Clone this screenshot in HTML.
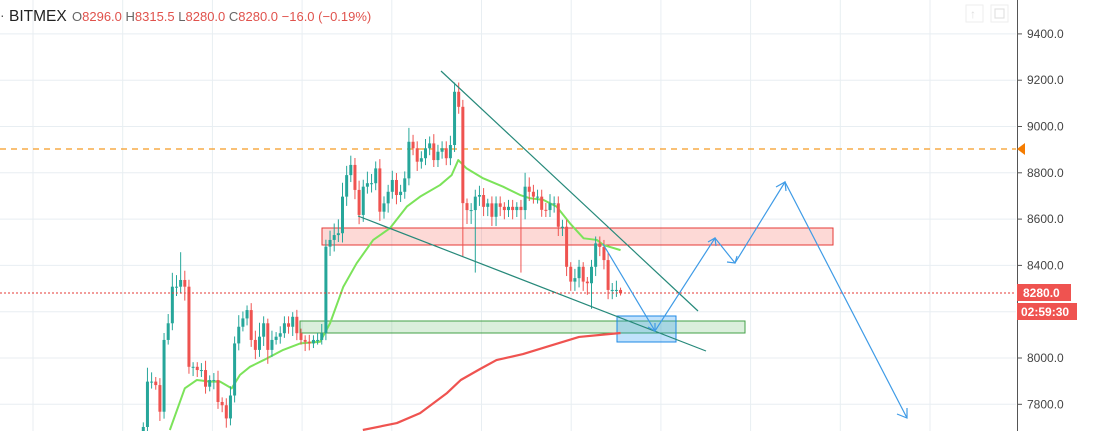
<!DOCTYPE html>
<html><head><meta charset="utf-8"><style>
body{margin:0;background:#fff;width:1108px;height:431px;overflow:hidden;font-family:"Liberation Sans",sans-serif}
svg{display:block}
</style></head><body>
<svg id="chart" width="1108" height="431" xmlns="http://www.w3.org/2000/svg">
<g id="grid"></g>
<g id="drawings-back">
<line x1="0" y1="149" x2="1016" y2="149" stroke="#f59a23" stroke-width="1.3" stroke-dasharray="6,5"/>
<rect x="322" y="228" width="511" height="17" fill="rgba(244,80,70,0.22)" stroke="#e53935" stroke-width="1"/>
<rect x="300" y="321" width="445" height="12" fill="rgba(76,175,80,0.2)" stroke="#43a047" stroke-width="1"/>
<rect x="617" y="316" width="59" height="26" fill="rgba(33,150,243,0.28)" stroke="#1e88e5" stroke-width="1"/>
</g>
<g id="ma200"></g>
<g id="ma-fast"></g>
<g id="candles"></g>
<g id="drawings">
<line x1="441" y1="71" x2="698" y2="311" stroke="#26897a" stroke-width="1.2"/>
<line x1="358" y1="216" x2="706" y2="351" stroke="#26897a" stroke-width="1.2"/>
<line x1="0" y1="293" x2="1016" y2="293" stroke="#e53935" stroke-width="1" stroke-dasharray="2,2"/>
<polyline points="603,244 655,331 715,238 735,263 785,182 907,418" fill="none" stroke="#3f9be6" stroke-width="1.2"/>
<g stroke="#3f9be6" stroke-width="1.2" fill="none">
<polyline points="648,327 655,331 655,323"/>
<polyline points="708,242 715,238 716,246"/>
<polyline points="727,262 735,263 737,256"/>
<polyline points="776,187 785,182 786,191"/>
<polyline points="897,414 907,418 907,408"/>
</g>
</g>
<rect x="1018" y="0" width="90" height="431" fill="#fff"/>
<line x1="1017.5" y1="0" x2="1017.5" y2="431" stroke="#555" stroke-width="1"/>
<g id="yaxis"></g>
<polygon points="1017,149 1025,143 1025,155" fill="#f57c00"/>
<rect x="1017" y="284" width="54" height="17" fill="#ef5350"/>
<text x="1023" y="297" font-size="12" font-weight="bold" fill="#fff">8280.0</text>
<rect x="1017" y="303" width="60" height="17" fill="#ef5350"/>
<text x="1021" y="316" font-size="12" font-weight="bold" fill="#fff">02:59:30</text>
<rect x="966" y="5" width="17" height="17" fill="none" stroke="#eee"/>
<text x="970" y="18" font-size="12" fill="#ddd">↑</text>
<rect x="991" y="5" width="17" height="17" fill="none" stroke="#eee"/>
<rect x="995" y="9" width="9" height="9" fill="none" stroke="#ddd"/>
<text x="0" y="20" font-size="14" fill="#555">·</text>
<text x="9" y="21" font-size="15.5" fill="#222">BITMEX</text>
<text x="72" y="21" font-size="13"><tspan fill="#666">O</tspan><tspan fill="#e0524c">8296.0 </tspan><tspan fill="#666"> H</tspan><tspan fill="#e0524c">8315.5 </tspan><tspan fill="#666"> L</tspan><tspan fill="#e0524c">8280.0 </tspan><tspan fill="#666"> C</tspan><tspan fill="#e0524c">8280.0  −16.0 (−0.19%)</tspan></text>
</svg>
<script>
const closes=[7702,7898,7898,7883,7768,8078,8150,8308,8308,8337,8308,7962,7962,7948,7948,7876,7905,7905,7810,7796,7739,7838,8063,8135,8171,8207,8078,8035,8092,8150,8035,8078,8092,8107,8150,8135,8178,8107,8078,8070,8063,8078,8078,8107,8481,8510,8531,8539,8697,8790,8834,8726,8618,8740,8755,8755,8819,8632,8668,8718,8769,8704,8718,8776,8934,8906,8848,8863,8906,8927,8855,8891,8906,8863,8920,9150,9085,8669,8639,8639,8697,8704,8653,8668,8610,8668,8653,8639,8653,8639,8653,8639,8740,8718,8697,8697,8640,8639,8668,8668,8567,8567,8394,8330,8345,8394,8330,8323,8394,8495,8480,8423,8294,8294,8294,8280];
const firstOpen=7650;
const wickUp=[20,60,40,20,30,30,40,60,50,120,40,30,20,20,30,40,20,30,40,20,30,40,30,50,30,20,30,40,60,30,20,40,20,30,30,30,20,30,20,20,30,20,30,40,30,40,50,60,60,40,40,30,40,30,50,40,30,40,30,30,40,30,30,30,60,30,30,30,40,30,40,30,30,30,40,40,40,30,20,30,30,40,30,20,30,30,30,20,30,30,20,30,60,40,30,30,30,30,40,30,30,30,30,20,40,30,20,20,30,30,30,30,30,30,40,10];
const wickDn=[20,30,30,20,40,30,20,30,40,30,60,30,40,30,30,30,20,40,30,30,40,30,30,30,20,30,30,40,30,40,60,30,20,30,20,30,40,30,20,40,30,20,20,20,30,40,50,30,40,40,30,40,40,30,30,40,30,40,30,40,30,40,30,30,30,30,40,30,30,30,30,30,30,30,30,30,30,230,60,60,270,40,40,40,40,40,40,40,30,40,30,270,40,40,30,30,30,30,30,40,40,40,40,40,40,40,40,50,110,40,40,40,40,40,30,10];
const fastMA=[[6.4,7689],[10,7869],[12.9,7905],[16.1,7898],[18.5,7898],[21.3,7869],[23.3,7927],[25.7,7962],[29,7991],[33.7,8035],[37.8,8063],[42.6,8070],[45,8150],[48.2,8308],[51.4,8409],[55.4,8510],[59.4,8560],[63.5,8654],[66.7,8697],[71.5,8747],[74.3,8790],[75.9,8855],[77.9,8819],[81.9,8776],[86.7,8740],[90.8,8704],[93.2,8690],[96.4,8683],[99.6,8654],[102.8,8582],[106.1,8517],[109.3,8510],[110.9,8488],[115,8466]];
const slowMA=[[52.9,7689],[61.1,7719],[66.7,7762],[73.2,7849],[76.5,7905],[81.1,7952],[85.1,7991],[91.5,8017],[97.1,8048],[105,8091],[115,8108]];
const priceTicks=[7800,8000,8200,8400,8600,8800,9000,9200,9400];
const tickLabels=["7800.0","8000.0","8200.0","8400.0","8600.0","8800.0","9000.0","9200.0","9400.0"];
const NS="http://www.w3.org/2000/svg";
const y=p=>358-(p-8000)*0.2315;
const x=i=>143.3+i*4.15;
function mk(tag,attrs,parent){const e=document.createElementNS(NS,tag);for(const k in attrs)e.setAttribute(k,attrs[k]);parent.appendChild(e);return e;}
const grid=document.getElementById('grid');
for(let i=0;i<12;i++){const gx=33+i*89.7;if(gx>1015)break;
const l=mk('line',{x1:gx,y1:0,x2:gx,y2:431,stroke:'#e8eef2','stroke-width':1},grid);

}
const yax=document.getElementById('yaxis');
priceTicks.forEach((p,i)=>{
const l=mk('line',{x1:0,y1:y(p),x2:1016,y2:y(p),stroke:'#e8eef2','stroke-width':1},grid);


const t=mk('line',{x1:1018,y1:y(p),x2:1022,y2:y(p),stroke:'#555'},yax);


const tx=mk('text',{x:1027,y:y(p)+4,'font-size':12,fill:'#444'},yax);tx.textContent=tickLabels[i];


});
const cg=document.getElementById('candles');
closes.forEach((c,i)=>{
const o=i===0?firstOpen:closes[i-1];
const up=c>=o;const col=up?'#26a69a':'#ef5350';
const hi=Math.max(o,c)+wickUp[i],lo=Math.min(o,c)-wickDn[i];
const cx=x(i);
const w=mk('line',{x1:cx,y1:y(hi),x2:cx,y2:y(lo),stroke:col,'stroke-width':1},cg);


const top=y(Math.max(o,c)),h=Math.max(1,Math.abs(y(o)-y(c)));
const b=mk('rect',{x:cx-1.5,y:top,width:3,height:h,fill:col},cg);


});
function line(arr,gid,col,w){const g=document.getElementById(gid);
const p=mk('polyline',{points:arr.map(d=>x(d[0])+','+y(d[1])).join(' '),fill:'none',stroke:col,'stroke-width':w,'stroke-linejoin':'round'},g);

}
line(slowMA,'ma200','#ef5350',2.2);
line(fastMA,'ma-fast','#7ce35a',2);
</script>
</body></html>
